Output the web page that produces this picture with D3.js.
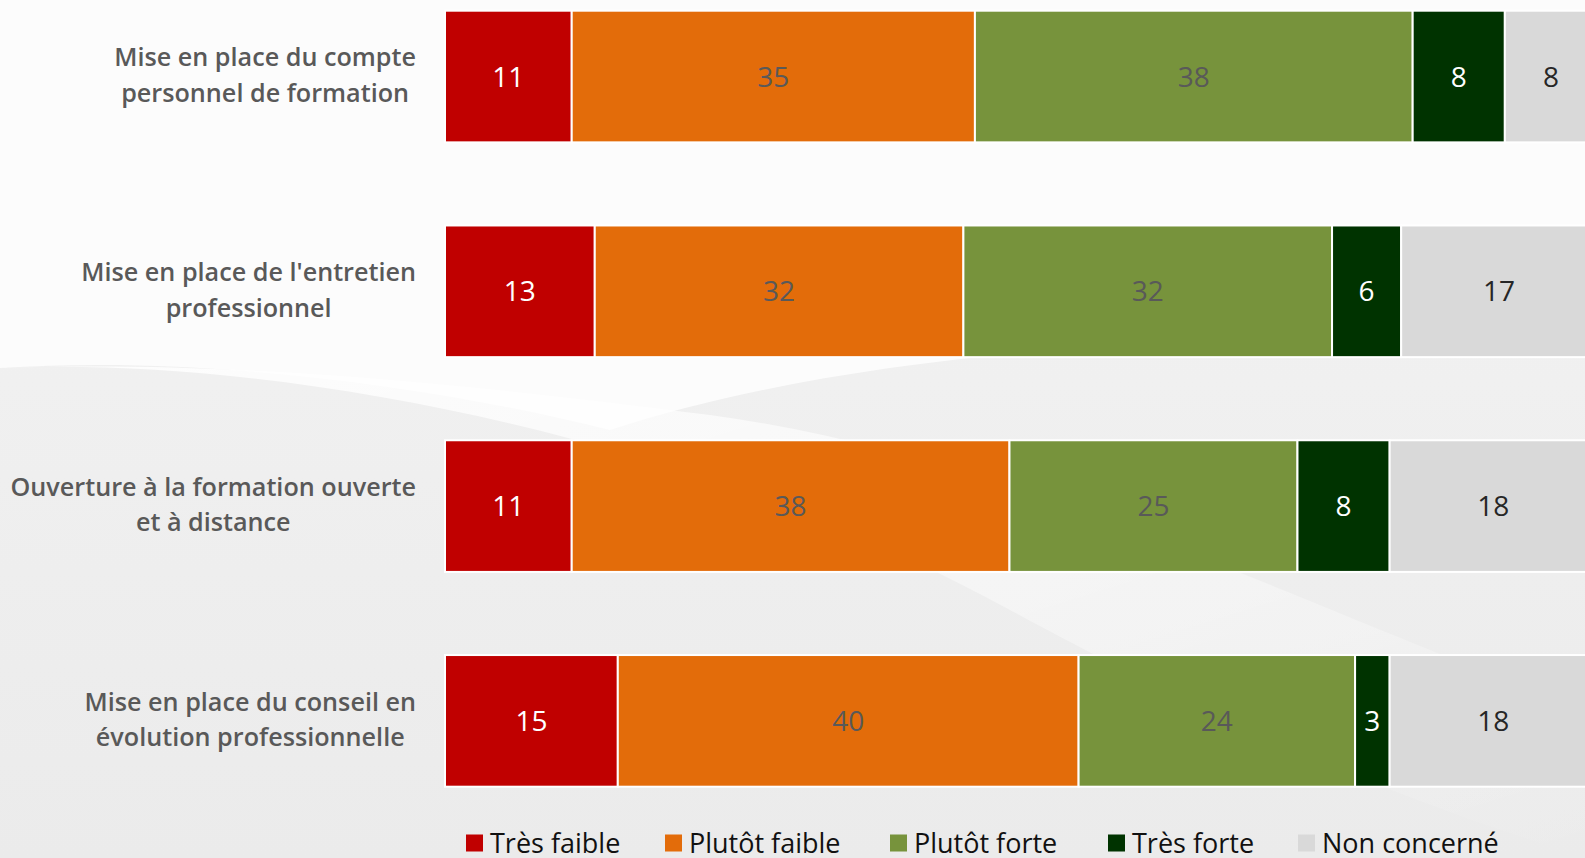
<!DOCTYPE html>
<html>
<head>
<meta charset="utf-8">
<script src="https://cdn.jsdelivr.net/npm/d3@7"></script>
<style>
  html, body { margin: 0; padding: 0; background: #fff; overflow: hidden; }
  svg { display: block; }
  text { font-family: "Open Sans", "Lato", sans-serif; }
</style>
</head>
<body>
<div id="chart"></div>
<script>
const categories = [
  "Mise en place du compte|personnel de formation",
  "Mise en place de l'entretien|professionnel",
  "Ouverture à la formation ouverte|et à distance",
  "Mise en place du conseil en|évolution professionnelle"
];
const seriesNames = ["Très faible", "Plutôt faible", "Plutôt forte", "Très forte", "Non concerné"];
const tresFaible   = [11, 13, 11, 15];
const plutotFaible = [35, 32, 38, 40];
const plutotForte  = [38, 32, 25, 24];
const tresForte    = [8, 6, 8, 3];
const nonConcerne  = [8, 17, 18, 18];

const colors = ["#C00000", "#E36C0A", "#77933C", "#003300", "#D9D9D9"];
const labelColors = ["#ffffff", "#595959", "#595959", "#ffffff", "#262626"];

const width = 1585, height = 858;

const rows = categories.map((c, i) => ({
  cat: c,
  [seriesNames[0]]: tresFaible[i],
  [seriesNames[1]]: plutotFaible[i],
  [seriesNames[2]]: plutotForte[i],
  [seriesNames[3]]: tresForte[i],
  [seriesNames[4]]: nonConcerne[i]
}));

const svg = d3.select("#chart").append("svg")
    .attr("width", width)
    .attr("height", height);

// background swooshes
const defs = svg.append("defs");
const bg = defs.append("linearGradient").attr("id", "bg")
    .attr("x1", 0).attr("y1", 0).attr("x2", 0).attr("y2", 1);
bg.append("stop").attr("offset", "0%").attr("stop-color", "#f4f4f4");
bg.append("stop").attr("offset", "100%").attr("stop-color", "#ebebeb");
const sw = defs.append("linearGradient").attr("id", "sw")
    .attr("x1", 0).attr("y1", 0).attr("x2", 1).attr("y2", 1);
sw.append("stop").attr("offset", "0%").attr("stop-color", "#ffffff").attr("stop-opacity", 0.9);
sw.append("stop").attr("offset", "100%").attr("stop-color", "#ffffff").attr("stop-opacity", 0);

svg.append("rect").attr("width", width).attr("height", height).attr("fill", "url(#bg)");
svg.append("path")
    .attr("d", "M0,0 L1585,0 L1585,330 C1300,335 900,335 610,430 C430,385 200,355 0,368 Z")
    .attr("fill", "#fcfcfc");
svg.append("path")
    .attr("d", "M0,368 C300,355 710,445 1010,610 C1160,690 1310,770 1585,858 L1585,710 C1310,610 1010,455 710,415 C400,375 200,362 0,368 Z")
    .attr("fill", "url(#sw)");

const x = d3.scaleLinear().domain([0, 100]).range([445, 1597]);
const y = d3.scaleBand().domain(categories).range([10.7, 786.7]).paddingInner(0.387).paddingOuter(0);

const stack = d3.stack().keys(seriesNames)(rows);

const layers = svg.append("g").selectAll("g")
    .data(stack)
    .join("g")
    .attr("fill", (d, i) => colors[i]);

layers.selectAll("rect")
    .data(d => d)
    .join("rect")
    .attr("x", d => x(d[0]))
    .attr("y", d => y(d.data.cat))
    .attr("width", d => x(d[1]) - x(d[0]))
    .attr("height", y.bandwidth())
    .attr("stroke", "#ffffff")
    .attr("stroke-width", 2);

layers.each(function(layer, i) {
  d3.select(this).selectAll("text")
    .data(layer)
    .join("text")
    .attr("x", d => (x(d[0]) + x(d[1])) / 2)
    .attr("y", d => y(d.data.cat) + y.bandwidth() / 2)
    .attr("dy", "0.36em")
    .attr("text-anchor", "middle")
    .attr("fill", labelColors[i])
    .attr("font-size", 28)
    .text(d => d[1] - d[0]);
});

// category labels: centred block, right edge at 416
const labels = svg.append("g");
categories.forEach(c => {
  const lines = c.split("|");
  const t = labels.append("text")
      .attr("fill", "#595959")
      .attr("font-size", 25.2)
      .attr("font-weight", 600);
  const cy = y(c) + y.bandwidth() / 2 - 1.5;
  lines.forEach((l, j) => {
    t.append("tspan")
      .attr("y", cy + (j - (lines.length - 1) / 2) * 35.5)
      .attr("dy", "0.36em")
      .text(l);
  });
  const w = d3.max(t.selectAll("tspan").nodes(), n => n.getComputedTextLength());
  t.attr("text-anchor", "middle").selectAll("tspan").attr("x", 416 - w / 2);
});

// legend
const legendX = [466, 665, 890, 1108, 1298];
const legend = svg.append("g");
seriesNames.forEach((s, i) => {
  const g = legend.append("g").attr("transform", `translate(${legendX[i]},843)`);
  g.append("rect").attr("x", 0).attr("y", -8.5).attr("width", 17).attr("height", 17)
    .attr("fill", colors[i]);
  g.append("text").attr("x", 24).attr("dy", "0.36em")
    .attr("font-size", 27).attr("fill", "#111")
    .text(s);
});
</script>
</body>
</html>
